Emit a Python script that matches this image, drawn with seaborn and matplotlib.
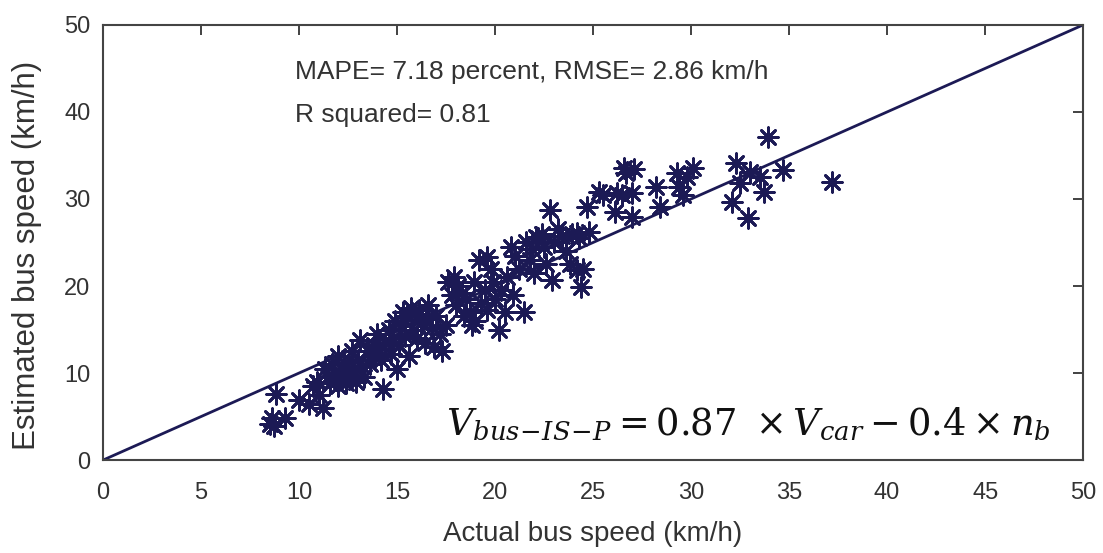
import numpy as np
import pandas as pd
import matplotlib
matplotlib.use('Agg')
import matplotlib.pyplot as plt
import seaborn as sns

# ---------------------------------------------------------
# data (km/h)
# ---------------------------------------------------------
actual_speed = [
    8.5, 8.6, 8.7, 8.8, 9.3,
    10.0, 10.5, 10.7, 10.9, 11.0,
    11.2, 11.3, 11.5, 11.6, 11.7, 11.8, 11.9, 12.0, 12.0,
    12.2, 12.3, 12.4, 12.5, 12.6, 12.7, 12.8, 12.9, 13.0,
    13.1, 13.2, 13.3, 13.5, 13.6, 13.8, 13.9,
    14.0, 14.1, 14.2, 14.3, 14.4, 14.6, 14.7, 14.8, 14.9,
    15.0, 15.1, 15.2, 15.3, 15.4, 15.5, 15.6, 15.7, 15.8, 15.9,
    16.0, 16.1, 16.2, 16.4, 16.5, 16.6, 16.8, 16.9,
    17.0, 17.2, 17.3, 17.5, 17.6, 17.8, 17.9,
    18.0, 18.1, 18.3, 18.4, 18.5, 18.7, 18.8, 18.9,
    19.0, 19.2, 19.3, 19.5, 19.6, 19.6, 19.8, 19.9,
    20.0, 20.2, 20.3, 20.5, 20.6, 20.8, 20.9,
    21.0, 21.2, 21.5, 21.6, 21.8, 21.9,
    22.0, 22.1, 22.2, 22.4, 22.5, 22.6, 22.8, 22.9, 23.0,
    23.2, 23.4, 23.6, 23.8, 23.9,
    24.2, 24.2, 24.3, 24.4, 24.5, 24.7, 24.8,
    25.3, 25.5, 26.1, 26.2, 26.5, 26.6, 26.7, 27.0, 27.0, 27.1,
    28.2, 28.4, 29.3, 29.4, 29.6, 29.8, 30.1,
    32.1, 32.3, 32.5, 32.9, 33.0, 33.5, 33.7, 34.7, 33.9, 37.2,
]
estimated_speed = [
    4.2, 4.8, 3.9, 7.6, 4.8,
    6.9, 6.4, 8.5, 9.0, 7.5,
    6.0, 10.5, 9.5, 8.8, 11.0, 10.0, 9.2, 12.0, 8.5,
    9.8, 11.2, 8.8, 10.5, 9.5, 12.5, 10.2, 9.0, 11.5,
    13.8, 10.8, 9.6, 12.5, 11.0, 13.2, 12.0,
    14.5, 12.8, 11.5, 8.2, 13.5, 15.0, 12.2, 14.0, 16.0,
    10.5, 13.2, 15.5, 17.0, 14.3, 16.5, 12.0, 17.5, 15.0, 16.8,
    14.0, 17.2, 15.8, 13.5, 16.2, 17.8, 15.2, 13.0,
    16.5, 14.5, 12.5, 15.5, 20.5, 19.0, 21.0,
    17.8, 20.0, 19.2, 16.5, 18.5, 17.0, 15.5, 20.5,
    16.0, 23.0, 18.0, 19.5, 17.2, 23.3, 22.0, 20.5,
    18.5, 15.0, 19.5, 17.0, 21.0, 24.5, 19.0,
    23.5, 22.0, 17.0, 25.0, 23.0, 24.2,
    21.5, 25.6, 25.5, 26.0, 24.5, 22.5, 28.7, 20.7, 25.0,
    26.5, 25.8, 24.0, 22.5, 26.0,
    21.8, 26.1, 25.5, 19.9, 22.0, 29.1, 26.2,
    30.8, 30.5, 28.5, 30.7, 30.5, 33.6, 33.0, 30.7, 27.9, 33.5,
    31.4, 29.1, 33.0, 31.4, 30.5, 32.5, 33.6,
    29.7, 34.1, 31.8, 27.8, 33.1, 32.5, 30.8, 33.3, 37.1, 32.0,
]
reference_line = [0, 50]

x_ticks = list(range(0, 51, 5))
y_ticks = list(range(0, 51, 10))

navy = '#1c1a55'
text_grey = '#333333'

# ---------------------------------------------------------
# plot
# ---------------------------------------------------------
sns.set_style('white')
plt.rcParams['font.family'] = ['Liberation Sans', 'DejaVu Sans']
plt.rcParams['mathtext.fontset'] = 'dejavuserif'

df = pd.DataFrame({'actual': actual_speed, 'estimated': estimated_speed})
df_line = pd.DataFrame({'x': reference_line, 'y': reference_line})

fig = plt.figure(figsize=(11.03, 5.53), dpi=100)
ax = fig.add_axes([0.0934, 0.168, 0.8886, 0.787])

sns.lineplot(data=df_line, x='x', y='y', ax=ax, color=navy, linewidth=2)
sns.scatterplot(data=df, x='actual', y='estimated', ax=ax,
                marker=(8, 2, 0), s=200, color=navy, edgecolor=navy,
                linewidth=2.0, zorder=3)

ax.set_xlim(0, 50)
ax.set_ylim(0, 50)
ax.set_xticks(x_ticks)
ax.set_yticks(y_ticks)
ax.tick_params(direction='in', top=True, right=True, length=7, width=1.3,
               labelsize=17, colors=text_grey, pad=9)
ax.tick_params(axis='x', pad=16)
for sp in ax.spines.values():
    sp.set_color('#444444')
    sp.set_linewidth(1.5)

ax.set_xlabel('Actual bus speed (km/h)', fontsize=20, color=text_grey, labelpad=12)
ax.set_ylabel('Estimated bus speed (km/h)', fontsize=22.5, color=text_grey)
ax.yaxis.set_label_coords(-0.062, 0.47)

ax.text(9.8, 44.6, 'MAPE= 7.18 percent, RMSE= 2.86 km/h', fontsize=19,
        color=text_grey, va='center')
ax.text(9.8, 39.6, 'R squared= 0.81', fontsize=19, color=text_grey, va='center')
ax.text(17.5, 4.0, r'$V_{bus\!-\!IS\!-\!P} = 0.87\ \times V_{car} - 0.4 \times n_b$',
        fontsize=26.5, color='#111111', va='center')

plt.savefig('out.png', dpi=100)
